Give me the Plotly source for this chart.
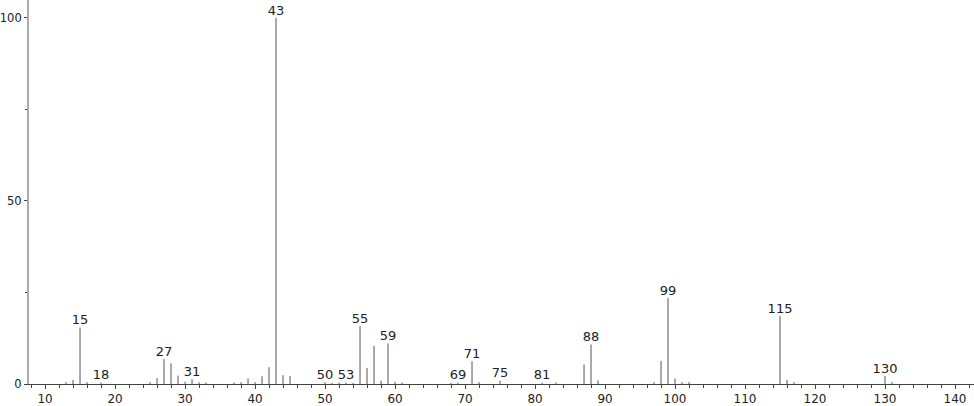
import plotly.graph_objects as go

# m/z values and relative intensities (%)
mz = [13, 14, 15, 16, 18, 25, 26, 27, 28, 29, 30, 31, 32, 33, 37, 38, 39, 40, 41, 42, 43, 44, 45,
      50, 51, 52, 53, 54, 55, 56, 57, 58, 59, 60, 61, 68, 69, 71, 72, 75, 81, 83, 87, 88, 89,
      97, 98, 99, 100, 101, 102, 115, 116, 117, 130, 131]
intensity = [0.5, 1.1, 15.4, 0.5, 0.4, 0.5, 1.6, 6.8, 5.6, 2.3, 0.6, 1.3, 0.5, 0.4, 0.4, 0.5, 1.5, 0.5, 2.1, 4.6, 100, 2.4, 2.2,
             0.5, 0.3, 0.4, 0.4, 0.3, 15.8, 4.4, 10.4, 0.9, 11.1, 0.6, 0.4, 0.3, 0.4, 6.2, 0.5, 0.9, 0.4, 0.4, 5.3, 10.8, 1.0,
             0.5, 6.3, 23.5, 1.5, 0.5, 0.5, 18.6, 1.1, 0.5, 2.2, 0.5]
labeled = [15, 18, 27, 31, 43, 50, 53, 55, 59, 69, 71, 75, 81, 88, 99, 115, 130]

x_ticks = list(range(10, 150, 10))
y_ticks = [0, 50, 100]

xs, ys = [], []
for m, v in zip(mz, intensity):
    xs += [m, m, None]
    ys += [0, v, None]

lab_x = [m for m in mz if m in labeled]
lab_y = [v for m, v in zip(mz, intensity) if m in labeled]

fig = go.Figure()
fig.add_trace(go.Scatter(x=xs, y=ys, mode="lines", line=dict(color="#555555", width=1),
                         hoverinfo="skip", showlegend=False))
fig.add_trace(go.Scatter(x=lab_x, y=lab_y, mode="text", text=[str(m) for m in lab_x],
                         textposition="top center",
                         textfont=dict(family="DejaVu Sans", size=13, color="#222222"),
                         showlegend=False))

fig.update_layout(
    width=974, height=406,
    margin=dict(l=29, r=0, t=0, b=22),
    plot_bgcolor="white", paper_bgcolor="white",
    font=dict(family="DejaVu Sans", size=13, color="#222222"),
    xaxis=dict(range=[7.71, 142.71], tickvals=x_ticks, ticks="outside", ticklen=4, tickwidth=1,
               tickcolor="#444444", showline=True, linecolor="#444444", linewidth=1,
               showgrid=False, zeroline=False, automargin=False, ticklabelstandoff=0,
               tickfont=dict(size=12),
               minor=dict(dtick=2, tick0=0, ticks="outside", ticklen=3, tickcolor="#444444", showgrid=False)),
    yaxis=dict(range=[0, 104.9], tickvals=y_ticks, ticks="outside", ticklen=3, tickwidth=1,
               tickcolor="#444444", showline=True, linecolor="#aaaaaa", linewidth=2,
               showgrid=False, zeroline=False, automargin=False, ticklabelstandoff=0,
               tickfont=dict(size=11.5),
               minor=dict(tickvals=[25, 75], ticks="outside", ticklen=2, tickcolor="#444444", showgrid=False)),
)

fig.write_html("out.html", config={"displayModeBar": False},
               post_script="document.body.style.margin='0';")
